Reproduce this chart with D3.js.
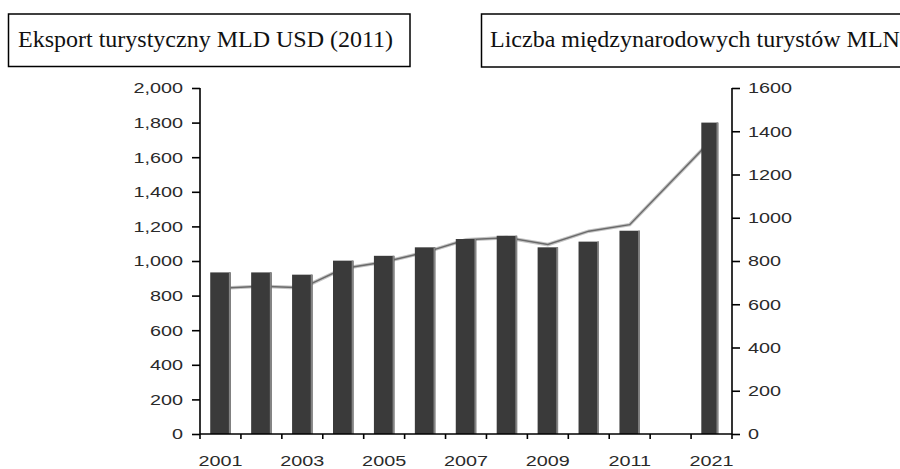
<!DOCTYPE html>
<html>

<head>
  <meta charset="utf-8">
  <script src="https://d3js.org/d3.v7.min.js"></script>
  <style>
    body {
      margin: 0;
      background: #fff;
    }

    .lbl {
      font-family: 'Liberation Sans', Arial, sans-serif;
      font-size: 15px;
      fill: #2a2a2a;
    }

    .title-text {
      font-family: 'Liberation Serif', 'Times New Roman', serif;
      font-size: 24px;
      fill: #111;
    }
  </style>
</head>

<body>
  <div class="chart"></div>
  <script type="text/javascript">
    // categories (one empty slot between 2011 and 2021)
    const years = ['2001', '2002', '2003', '2004', '2005', '2006', '2007',
      '2008', '2009', '2010', '2011', 'gap', '2021'];
    const yearLabels = ['2001', '2003', '2005', '2007', '2009', '2011', '2021'];

    // tourism export, bn USD (2011) -> bars, left axis
    const exportUsd = [934, 934, 921, 1002, 1030, 1079, 1127, 1146, 1079, 1112, 1175, null, 1800];
    // international tourists, mln -> line, right axis
    const tourists = [674, 683, 676, 765, 795, 840, 898, 908, 876, 938, 968, null, 1360];

    const leftTicks = [0, 200, 400, 600, 800, 1000, 1200, 1400, 1600, 1800, 2000];
    const rightTicks = [0, 200, 400, 600, 800, 1000, 1200, 1400, 1600];

    const leftTitle = 'Eksport turystyczny MLD USD (2011)';
    const rightTitle = 'Liczba międzynarodowych turystów MLN';

    const width = 900,
      height = 469;
    const plot = { left: 200, right: 732, top: 88, bottom: 434 };

    const svg = d3.select('.chart')
      .append('svg')
      .attr('width', width)
      .attr('height', height)
      .style('display', 'block');

    const rows = years.map((y, i) => ({ year: y, bar: exportUsd[i], line: tourists[i] }));

    const x = d3.scaleBand()
      .domain(years)
      .range([plot.left, plot.right])
      .paddingInner(0.5)
      .paddingOuter(0.25);

    const yLeft = d3.scaleLinear().domain([0, 2000]).range([plot.bottom, plot.top]);
    const yRight = d3.scaleLinear().domain([0, 1600]).range([plot.bottom, plot.top]);

    // the tick digits in the picture are wide, so stretch them a bit
    const widen = (sel) => sel.each(function () {
      const w = this.getComputedTextLength();
      d3.select(this)
        .attr('textLength', w * 1.32)
        .attr('lengthAdjust', 'spacingAndGlyphs');
    });

    // line first, the bars sit on top of it
    const linePts = rows.filter((d) => d.line != null);
    const line = d3.line()
      .x((d) => x(d.year) + x.bandwidth() / 2)
      .y((d) => yRight(d.line));

    svg.append('path')
      .datum(linePts)
      .attr('d', line)
      .attr('fill', 'none')
      .attr('stroke', '#c4c4c4')
      .attr('stroke-width', 3.6);

    svg.append('path')
      .datum(linePts)
      .attr('d', line)
      .attr('fill', 'none')
      .attr('stroke', '#6a6a6a')
      .attr('stroke-width', 1.5);

    // bars, dark with a lighter right edge
    const barRows = rows.filter((d) => d.bar != null);
    const barW = (d) => d.year === '2021' ? x.bandwidth() * 0.83 : x.bandwidth();

    const bars = svg.append('g').attr('class', 'bars');

    bars.selectAll('rect.bar')
      .data(barRows)
      .enter()
      .append('rect')
      .attr('class', 'bar')
      .attr('x', (d) => x(d.year))
      .attr('y', (d) => yLeft(d.bar))
      .attr('width', (d) => barW(d))
      .attr('height', (d) => yLeft(0) - yLeft(d.bar))
      .attr('fill', '#3a3a3a');

    bars.selectAll('rect.edge')
      .data(barRows)
      .enter()
      .append('rect')
      .attr('class', 'edge')
      .attr('x', (d) => x(d.year) + barW(d) - 1.8)
      .attr('y', (d) => yLeft(d.bar))
      .attr('width', 1.8)
      .attr('height', (d) => yLeft(0) - yLeft(d.bar))
      .attr('fill', '#858585');

    // left axis
    svg.append('g')
      .attr('transform', `translate(${plot.left},0)`)
      .call(d3.axisLeft(yLeft)
        .tickValues(leftTicks)
        .tickFormat(d3.format(','))
        .tickSize(8)
        .tickSizeOuter(0)
        .tickPadding(9))
      .call((g) => g.selectAll('line, path').attr('stroke', '#000').attr('stroke-width', 1.6))
      .call((g) => g.select('.domain').attr('d', `M0,${plot.top}V${plot.bottom}`))
      .call((g) => g.selectAll('text').attr('class', 'lbl').attr('font-size', null)
        .attr('font-family', null).attr('fill', null).call(widen));

    // right axis
    svg.append('g')
      .attr('transform', `translate(${plot.right},0)`)
      .call(d3.axisRight(yRight)
        .tickValues(rightTicks)
        .tickFormat(d3.format('d'))
        .tickSize(8)
        .tickSizeOuter(0)
        .tickPadding(8))
      .call((g) => g.selectAll('line, path').attr('stroke', '#000').attr('stroke-width', 1.6))
      .call((g) => g.select('.domain').attr('d', `M0,${plot.top}V${plot.bottom}`))
      .call((g) => g.selectAll('text').attr('class', 'lbl').attr('font-size', null)
        .attr('font-family', null).attr('fill', null).call(widen));

    // bottom axis: ticks on band edges, labels at band centres
    const xAxis = svg.append('g').attr('class', 'x-axis');

    xAxis.append('line')
      .attr('x1', plot.left)
      .attr('x2', plot.right)
      .attr('y1', plot.bottom)
      .attr('y2', plot.bottom)
      .attr('stroke', '#000')
      .attr('stroke-width', 1.6);

    const edges = d3.range(years.length + 1).map((i) => plot.left + i * x.step());

    xAxis.selectAll('line.xt')
      .data(edges)
      .enter()
      .append('line')
      .attr('class', 'xt')
      .attr('x1', (d) => d)
      .attr('x2', (d) => d)
      .attr('y1', plot.bottom)
      .attr('y2', plot.bottom + 5)
      .attr('stroke', '#000')
      .attr('stroke-width', 1.6);

    xAxis.selectAll('text')
      .data(yearLabels)
      .enter()
      .append('text')
      .attr('class', 'lbl')
      .attr('x', (d) => x(d) + x.bandwidth() / 2)
      .attr('y', 466)
      .attr('text-anchor', 'middle')
      .text((d) => d)
      .call(widen);

    // boxed titles
    const titles = svg.append('g');

    titles.append('rect')
      .attr('x', 8.5).attr('y', 14).attr('width', 401.5).attr('height', 52.5)
      .attr('fill', 'none').attr('stroke', '#000').attr('stroke-width', 1.5);

    titles.append('text')
      .attr('class', 'title-text')
      .attr('x', 18).attr('y', 47)
      .text(leftTitle);

    titles.append('rect')
      .attr('x', 481.5).attr('y', 14).attr('width', 440).attr('height', 53)
      .attr('fill', 'none').attr('stroke', '#000').attr('stroke-width', 1.5);

    titles.append('text')
      .attr('class', 'title-text')
      .attr('x', 490).attr('y', 47)
      .text(rightTitle);
  </script>
</body>

</html>
